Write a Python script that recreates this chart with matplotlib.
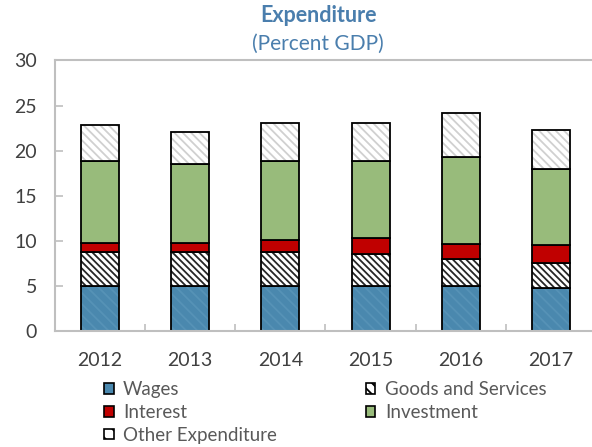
import matplotlib
matplotlib.use('Agg')
import numpy as np
from matplotlib import pyplot as plt
from matplotlib.patches import Patch

years = ['2012', '2013', '2014', '2015', '2016', '2017']
wages = [5.0, 5.0, 5.0, 5.0, 5.0, 4.8]
goods = [3.8, 3.8, 3.8, 3.5, 3.0, 2.7]
interest = [1.0, 1.0, 1.3, 1.8, 1.6, 2.0]
investment = [9.1, 8.7, 8.8, 8.6, 9.7, 8.5]
other = [4.0, 3.6, 4.2, 4.2, 4.9, 4.3]

plt.rcParams['font.family'] = ['Lato', 'DejaVu Sans']
plt.rcParams['hatch.linewidth'] = 1.3

fig = plt.figure(figsize=(5.92, 4.47), dpi=100)
ax = fig.add_axes([55/592, 1-331/447, 541/592, 270.5/447])

x = np.arange(len(years))
w = 0.42

# (values, face colour, hatch, hatch colour)
series = [
	(wages, '#4a88ae', '\\\\\\', '#5692b6'),
	(goods, 'white', '\\\\\\\\\\', '#262626'),
	(interest, '#c00000', None, None),
	(investment, '#98bb7b', None, None),
	(other, 'white', '\\\\\\\\', '#d0d0d0'),
]

bottom = np.zeros(len(years))
for vals, fc, hatch, hc in series:
	vals = np.array(vals)
	if hatch:
		ax.bar(x, vals, w, bottom=bottom, color=fc, edgecolor=hc, hatch=hatch, linewidth=0)
	else:
		ax.bar(x, vals, w, bottom=bottom, color=fc, linewidth=0)
	ax.bar(x, vals, w, bottom=bottom, fill=False, edgecolor='black', linewidth=1.3)
	bottom += vals

ax.set_ylim(0, 30)
ax.set_xlim(-0.5, 5.5)
ax.set_yticks([0, 5, 10, 15, 20, 25, 30])
ax.set_xticks(x)
ax.set_xticklabels(years)
ax.set_xticks(x[:-1] + 0.5, minor=True)

for s in ax.spines.values():
	s.set_color('#bfbfbf')
	s.set_linewidth(1.5)

ax.tick_params(axis='y', direction='in', length=6, width=1.2, color='#bfbfbf',
			   labelsize=14, labelcolor='#404040', pad=13)
ax.tick_params(axis='x', which='major', length=0, labelsize=14, labelcolor='#404040', pad=15)
ax.tick_params(axis='x', which='minor', direction='in', length=5, width=1.2, color='#bfbfbf')

fig.text(318/592, 1-16/447, 'Expenditure', ha='center', va='center',
		 fontsize=15.5, fontweight='bold', color='#4a7ead')
fig.text(318/592, 1-44/447, '(Percent GDP)', ha='center', va='center',
		 fontsize=15, color='#4a7ead')

handles = [
	Patch(facecolor='#4a88ae', edgecolor='black', linewidth=1.2, label='Wages'),
	Patch(facecolor='#c00000', edgecolor='black', linewidth=1.2, label='Interest'),
	Patch(facecolor='white', edgecolor='black', hatch='\\\\', linewidth=1.2, label='Other Expenditure'),
	Patch(facecolor='white', edgecolor='black', hatch='\\\\\\', linewidth=1.2, label='Goods and Services'),
	Patch(facecolor='#98bb7b', edgecolor='black', linewidth=1.2, label='Investment'),
]
leg = fig.legend(handles=handles, ncol=2, loc='upper left', bbox_to_anchor=(95/592, 1-372/447),
				 frameon=False, fontsize=13.5, handlelength=0.5, handleheight=0.5,
				 handletextpad=0.5, labelspacing=0.3, columnspacing=4.75, borderpad=0)
for t in leg.get_texts():
	t.set_color('#595959')

fig.savefig('out.png', dpi=100)
